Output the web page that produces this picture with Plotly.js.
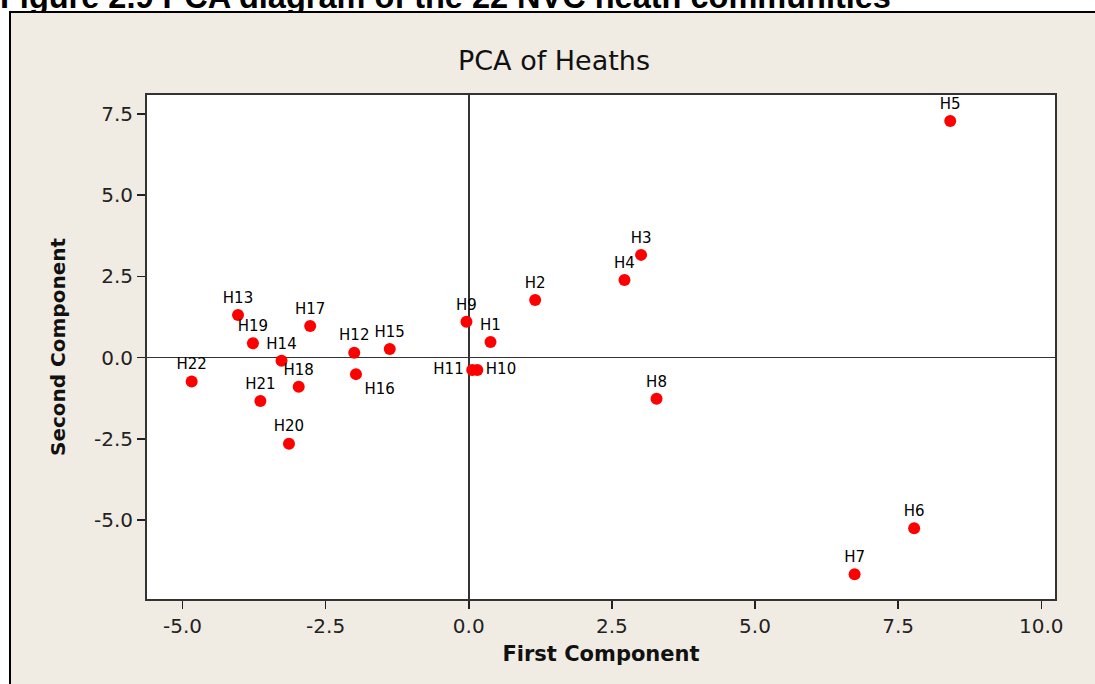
<!DOCTYPE html>
<html>
<head>
<meta charset="utf-8">
<script src="https://cdn.plot.ly/plotly-3.0.1.min.js"></script>
<style>
  html, body { margin: 0; padding: 0; width: 1095px; height: 684px; overflow: hidden; background: #ffffff; }
  #caption { position: absolute; left: 0px; top: -19px; font-family: "Liberation Sans", Arial, sans-serif; font-weight: bold; font-size: 32.5px; line-height: 32px; color: #000; white-space: nowrap; }
  #frame { position: absolute; left: 9px; top: 11px; width: 1086px; height: 673px; border-left: 2px solid #000; border-top: 2px solid #000; background: #f1ece3; }
  #chart { width: 1086px; height: 673px; }
</style>
</head>
<body>
<div id="caption">Figure 2.9 PCA diagram of the 22 NVC heath communities</div>
<div id="frame"><div id="chart"></div></div>
<script>
// Community labels and PCA scores
const communities = ["H1","H2","H3","H4","H5","H6","H7","H8","H9","H10","H11",
                     "H12","H13","H14","H15","H16","H17","H18","H19","H20","H21","H22"];
const firstComponent  = [0.38, 1.16, 3.01, 2.72, 8.41, 7.78, 6.74, 3.28, -0.04, 0.15, 0.06,
                         -2.00, -4.03, -3.27, -1.38, -1.97, -2.77, -2.97, -3.77, -3.14, -3.64, -4.84];
const secondComponent = [0.48, 1.77, 3.16, 2.39, 7.28, -5.25, -6.67, -1.27, 1.10, -0.38, -0.38,
                         0.15, 1.31, -0.10, 0.26, -0.51, 0.97, -0.90, 0.44, -2.65, -1.34, -0.74];
const labelPositions  = ["top center","top center","top center","top center","top center","top center",
                         "top center","top center","top center","middle right","middle left",
                         "top center","top center","top center","top center","bottom right","top center",
                         "top center","top center","top center","top center","top center"];
const xTickValues = [-5.0, -2.5, 0.0, 2.5, 5.0, 7.5, 10.0];
const xTickLabels = ["-5.0", "-2.5", "0.0", "2.5", "5.0", "7.5", "10.0"];
const yTickValues = [-5.0, -2.5, 0.0, 2.5, 5.0, 7.5];
const yTickLabels = ["-5.0", "-2.5", "0.0", "2.5", "5.0", "7.5"];

const trace = {
  type: "scatter",
  mode: "markers+text",
  x: firstComponent,
  y: secondComponent,
  text: communities,
  textposition: labelPositions,
  textfont: { family: "DejaVu Sans", size: 15, color: "#000" },
  marker: { color: "#ff0000", size: 12, line: { width: 0 } },
  cliponaxis: false,
  hoverinfo: "x+y+text"
};

const axisFont = { family: "DejaVu Sans", size: 20, color: "#222" };
const layout = {
  width: 1086, height: 673,
  paper_bgcolor: "#f1ece3",
  plot_bgcolor: "#ffffff",
  margin: { l: 136, r: 42, t: 82, b: 87 },
  showlegend: false,
  title: { text: "PCA of Heaths", font: { family: "DejaVu Sans", size: 27, color: "#111" },
           xref: "container", x: 0.5, xanchor: "center", yref: "container", y: 0.93, yanchor: "middle" },
  xaxis: {
    range: [-5.62, 10.24],
    tickmode: "array", tickvals: xTickValues, ticktext: xTickLabels,
    ticks: "outside", ticklen: 8, tickwidth: 1.5, tickcolor: "#222",
    tickfont: axisFont,
    showgrid: false, zeroline: true, zerolinecolor: "#333", zerolinewidth: 1.5,
    showline: true, linecolor: "#333", linewidth: 2, mirror: true,
    title: { text: "First Component", font: { family: "DejaVu Sans", size: 21, color: "#111", weight: "bold" }, standoff: 9 },
    automargin: false
  },
  yaxis: {
    range: [-7.43, 8.08],
    tickmode: "array", tickvals: yTickValues, ticktext: yTickLabels,
    ticks: "outside", ticklen: 8, tickwidth: 1.5, tickcolor: "#222",
    tickfont: axisFont,
    showgrid: false, zeroline: true, zerolinecolor: "#333", zerolinewidth: 1.5,
    showline: true, linecolor: "#333", linewidth: 2, mirror: true,
    title: { text: "Second Component", font: { family: "DejaVu Sans", size: 20, color: "#111", weight: "bold" }, standoff: 23 },
    automargin: false
  }
};

Plotly.newPlot("chart", [trace], layout, { displayModeBar: false, staticPlot: true });
</script>
</body>
</html>
